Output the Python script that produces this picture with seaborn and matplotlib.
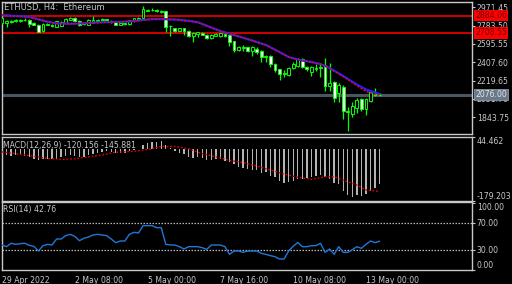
import numpy as np
import pandas as pd
import matplotlib
matplotlib.use("Agg")
import matplotlib.pyplot as plt
import seaborn as sns

sns.set_style("dark", {"axes.facecolor": "black", "figure.facecolor": "black"})
plt.rcParams['font.family'] = ['DejaVu Sans']
plt.rcParams['patch.edgecolor'] = 'none'

# ---------------- data ----------------
opens = [2810, 2815, 2825, 2830, 2832, 2838, 2840, 2810, 2795, 2725, 2795, 2795, 2770, 2780, 2815, 2845,
         2862, 2835, 2800, 2790, 2815, 2835, 2840, 2848, 2820, 2830, 2790, 2800, 2800, 2830, 2850, 2865,
         2938, 2940, 2948, 2925, 2930, 2775, 2755, 2730, 2755, 2730, 2680, 2700, 2710, 2690, 2655, 2680,
         2675, 2700, 2685, 2625, 2530, 2555, 2560, 2520, 2540, 2525, 2465, 2475, 2395, 2335, 2290, 2280,
         2345, 2370, 2445, 2360, 2310, 2335, 2345, 2385, 2165, 2205, 2090, 2150, 1910, 1880, 1940, 2030,
         1925, 2015, 2085, 2070]
highs = [2875, 2845, 2845, 2850, 2855, 2858, 2848, 2820, 2800, 2810, 2815, 2800, 2835, 2835, 2860, 2870,
         2870, 2840, 2820, 2850, 2885, 2855, 2858, 2855, 2840, 2835, 2815, 2815, 2845, 2865, 2870, 2980,
         2955, 2960, 2955, 2940, 2935, 2790, 2760, 2760, 2760, 2740, 2720, 2720, 2715, 2700, 2695, 2705,
         2710, 2705, 2690, 2630, 2570, 2580, 2565, 2570, 2560, 2530, 2480, 2480, 2400, 2340, 2330, 2360,
         2410, 2455, 2455, 2370, 2370, 2390, 2400, 2450, 2400, 2215, 2200, 2180, 1945, 2005, 2040, 2040,
         2040, 2110, 2140, 2095]
lows = [2800, 2770, 2815, 2820, 2825, 2830, 2770, 2785, 2715, 2715, 2785, 2770, 2765, 2775, 2805, 2838,
        2830, 2780, 2790, 2785, 2810, 2830, 2835, 2832, 2815, 2785, 2785, 2795, 2790, 2825, 2845, 2860,
        2930, 2935, 2925, 2915, 2720, 2680, 2720, 2725, 2690, 2665, 2620, 2665, 2685, 2650, 2650, 2675,
        2670, 2670, 2575, 2510, 2525, 2525, 2515, 2475, 2490, 2415, 2415, 2355, 2310, 2225, 2260, 2270,
        2335, 2355, 2345, 2320, 2270, 2320, 2260, 2115, 2110, 2005, 2005, 1825, 1700, 1845, 1885, 1910,
        1870, 2005, 2065, 2060]
closes = [2860, 2830, 2835, 2838, 2840, 2845, 2805, 2795, 2720, 2800, 2800, 2775, 2830, 2825, 2850, 2860,
          2835, 2790, 2810, 2840, 2840, 2845, 2848, 2838, 2835, 2790, 2810, 2808, 2840, 2860, 2860, 2950,
          2945, 2948, 2930, 2932, 2770, 2780, 2730, 2755, 2725, 2680, 2710, 2715, 2690, 2655, 2690, 2695,
          2705, 2680, 2615, 2530, 2565, 2565, 2520, 2565, 2515, 2460, 2475, 2390, 2325, 2285, 2300, 2350,
          2395, 2445, 2355, 2335, 2360, 2345, 2360, 2160, 2200, 2040, 2175, 1905, 1900, 1955, 2020, 1925,
          2030, 2100, 2075, 2076]

ma_bars = [0, 2, 6, 8, 10, 12, 15, 17, 22, 26, 29, 31, 33, 35, 38, 41, 43, 48, 51, 55, 58, 61, 63, 66,
           68, 70, 72, 75, 78, 80, 82, 83]
ma_blue = [2892, 2885, 2874, 2848, 2823, 2807, 2803, 2806, 2818, 2821, 2831, 2841, 2851, 2851, 2846, 2833,
           2819, 2728, 2687, 2631, 2585, 2513, 2462, 2426, 2411, 2390, 2349, 2267, 2180, 2129, 2098, 2083]
ma_red = [2890, 2884, 2872, 2847, 2822, 2806, 2802, 2805, 2817, 2820, 2830, 2840, 2850, 2850, 2845, 2832,
          2818, 2727, 2686, 2630, 2584, 2512, 2461, 2425, 2410, 2389, 2347, 2262, 2168, 2110, 2080, 2072]

macd_hist = [-17, -20, -24, -21, -20, -24, -28, -33, -38, -35, -35, -35, -32, -28, -24, -20,
             -24, -28, -26, -21, -17, -12, -10, -7, -10, -14, -14, -12, -7, -2.5, 0.5, 15,
             21, 24, 24, 28, 15, 3, -5, -14, -17, -26, -31, -26, -31, -38, -38, -35,
             -35, -40, -44, -50, -62, -64, -67, -71, -73, -83, -79, -91, -97, -111, -118, -115,
             -109, -103, -103, -99, -97, -91, -88, -97, -103, -118, -121, -144, -159, -165, -159, -162,
             -156, -144, -135, -120.156]
signal_bars = [0, 3, 7, 10, 13, 16, 19, 22, 25, 29, 32, 35, 38, 41, 44, 47, 50, 53, 56, 59, 62, 65, 68,
               71, 73, 75, 78, 80, 83]
signal_vals = [-9, -15, -24, -32, -35, -33, -26, -20, -10, -7, -1, 10, 10, 2, -15, -26, -38, -46, -58,
               -72, -86, -97, -104, -95, -95, -107, -124, -141, -145.881]

rsi = [37, 34.5, 39.6, 38, 39, 39.6, 36.5, 35, 28, 36, 38, 37, 46, 46, 51, 53,
       50, 43.5, 47, 49, 52, 53, 52, 51, 46, 40.5, 43, 43, 53, 56, 55, 66,
       66, 66, 63, 63, 38, 37, 37, 34.5, 31, 34.5, 34.5, 34.5, 33, 30.5, 37, 37,
       37, 34.5, 23, 28, 28, 26, 28, 28, 28, 24.5, 23, 21, 19.5, 16, 16, 28,
       35, 41, 34.5, 34.5, 36, 36, 39.6, 26, 31, 23, 34.5, 26, 26, 30, 34.5, 32,
       38, 43, 40.5, 42.76]

price_ticks = [2971.45, 2783.50, 2595.55, 2407.60, 2219.65, 2031.70, 1843.75]
red_levels = [2884.06, 2708.55]
bid_price = 2076.00
macd_range = [-179.203, 44.462]
rsi_levels = [70, 30]
time_label_bars = [0, 16, 32, 48, 64, 80]
time_labels = ["29 Apr 2022", "2 May 08:00", "5 May 00:00", "7 May 16:00", "10 May 08:00", "13 May 00:00"]

# ---------------- layout ----------------
W, H = 512, 284
fig = plt.figure(figsize=(W / 100, H / 100), dpi=100, facecolor="black")
L, R = 1.5, 472.0


def add_ax(top, bottom):
    return fig.add_axes([L / W, (H - bottom) / H, (R - L) / W, (bottom - top) / H])


def px2price(y):
    return 2971.45 - (y - 7.3) * 10.25


ax_main = add_ax(1.5, 134.0)
ax_macd = add_ax(136.5, 201.0)
ax_rsi = add_ax(201.5, 269.7)

xlo, xhi = -0.11, 103.3
FG = "#c8c8c8"
FS = 5.6

for ax in (ax_main, ax_macd, ax_rsi):
    ax.set_facecolor("black")
    ax.set_xlim(xlo, xhi)
    ax.grid(False)
    for s in ax.spines.values():
        s.set_color(FG)
        s.set_linewidth(1.0)
        s.set_visible(True)
    ax.yaxis.tick_right()
    ax.tick_params(axis="y", colors=FG, labelsize=FS, length=2.5, width=0.8, pad=1)
    ax.tick_params(axis="x", colors=FG, labelsize=FS, length=0)
    ax.set_xticks([])
    ax.set_xlabel("")
    ax.set_ylabel("")

# ---------------- main panel ----------------
idx = np.arange(len(closes))
df = pd.DataFrame({"bar": idx, "open": opens, "high": highs, "low": lows, "close": closes})
ax_main.set_ylim(px2price(134.0), px2price(1.5))
ax_main.vlines(df["bar"], df["low"], df["high"], color="#00ff00", lw=0.9, zorder=3)
body_lo = np.minimum(df["open"], df["close"])
body_h = np.maximum(np.abs(df["close"] - df["open"]), 6)
body_col = np.where(df["close"] >= df["open"], "black", "white")
ax_main.bar(df["bar"], body_h, bottom=body_lo, width=0.62, color=body_col,
            edgecolor="#00ff00", linewidth=0.7, zorder=4)

ma_df = pd.DataFrame({"bar": ma_bars, "blue": ma_blue, "red": ma_red})
sns.lineplot(data=ma_df, x="bar", y="blue", ax=ax_main, color="#2020ff", lw=1.6, zorder=5, legend=False)
sns.lineplot(data=ma_df, x="bar", y="red", ax=ax_main, color="#ff0000", lw=1.1, zorder=6,
             legend=False, dashes=False, linestyle=(0, (1.2, 1.2)))

for lv in red_levels:
    ax_main.axhline(lv, color="#e00000", lw=1.3, zorder=2)
ax_main.axhline(bid_price, color="#4a5562", lw=2.2, zorder=1)

ax_main.set_yticks(price_ticks)
ax_main.set_yticklabels([f"{v:.2f}" for v in price_ticks])
ax_main.set_xlabel("")
ax_main.set_ylabel("")
ax_main.text(0.006, 0.955, "ETHUSD, H4:  Ethereum", transform=ax_main.transAxes, color=FG,
             fontsize=6.0, va="center", ha="left")

for lv in red_levels:
    fig.text(475 / W, 1 - (7.3 + (2971.45 - lv) / 10.25) / H, f"{lv:.2f}", color="#6a0000",
             fontsize=FS, va="center", ha="left", zorder=10,
             bbox=dict(facecolor="#ff0000", edgecolor="none", pad=0.15, boxstyle="square,pad=0.15"))
fig.text(475 / W, 1 - (7.3 + (2971.45 - bid_price) / 10.25) / H, f"{bid_price:.2f}", color="#dfe6ee",
         fontsize=FS, va="center", ha="left", zorder=10,
         bbox=dict(facecolor="#6a7888", edgecolor="#9aa8b8", linewidth=0.5, boxstyle="square,pad=0.15"))

# ---------------- MACD panel ----------------
ax_macd.set_ylim(macd_range[0], macd_range[1])
ax_macd.bar(idx, macd_hist, width=0.3, color="#b4b4b4", edgecolor="none", linewidth=0, zorder=2)
sig_df = pd.DataFrame({"bar": signal_bars, "signal": signal_vals})
sns.lineplot(data=sig_df, x="bar", y="signal", ax=ax_macd, color="#e00000", lw=1.0,
             linestyle=(0, (1.3, 1.3)), zorder=3, legend=False)
ax_macd.set_yticks(macd_range)
ax_macd.set_yticklabels([f"{v:.3f}" for v in macd_range])
tl = ax_macd.get_yticklabels()
tl[0].set_va("bottom")
tl[1].set_va("top")
ax_macd.set_xlabel("")
ax_macd.set_ylabel("")
ax_macd.text(0.004, 0.86, "MACD(12,26,9) -120.156 -145.881", transform=ax_macd.transAxes, color=FG,
             fontsize=FS, va="center", ha="left")

# ---------------- RSI panel ----------------
ax_rsi.set_ylim(0, 102.2)
rsi_df = pd.DataFrame({"bar": idx, "rsi": rsi})
for lv in rsi_levels:
    ax_rsi.axhline(lv, color="#b8b8b8", lw=0.9, linestyle=(0, (1.2, 1.2)), zorder=1)
sns.lineplot(data=rsi_df, x="bar", y="rsi", ax=ax_rsi, color="#1f78d8", lw=1.0, zorder=3, legend=False)
ax_rsi.set_yticks([100, 70, 30, 0])
ax_rsi.set_yticklabels(["100.00", "70.00", "30.00", "0.00"])
tl = ax_rsi.get_yticklabels()
tl[0].set_va("top")
tl[3].set_va("bottom")
ax_rsi.set_ylabel("")
ax_rsi.text(0.004, 0.88, "RSI(14) 42.76", transform=ax_rsi.transAxes, color=FG,
            fontsize=FS, va="center", ha="left")

ax_rsi.set_xticks(time_label_bars)
ax_rsi.set_xticklabels(time_labels)
ax_rsi.tick_params(axis="x", length=3, width=0.8, colors=FG, labelsize=FS, pad=1.5)
for t in ax_rsi.get_xticklabels():
    t.set_ha("left")
ax_rsi.set_xlabel("")

fig.savefig("out.png", dpi=100, facecolor="black")
